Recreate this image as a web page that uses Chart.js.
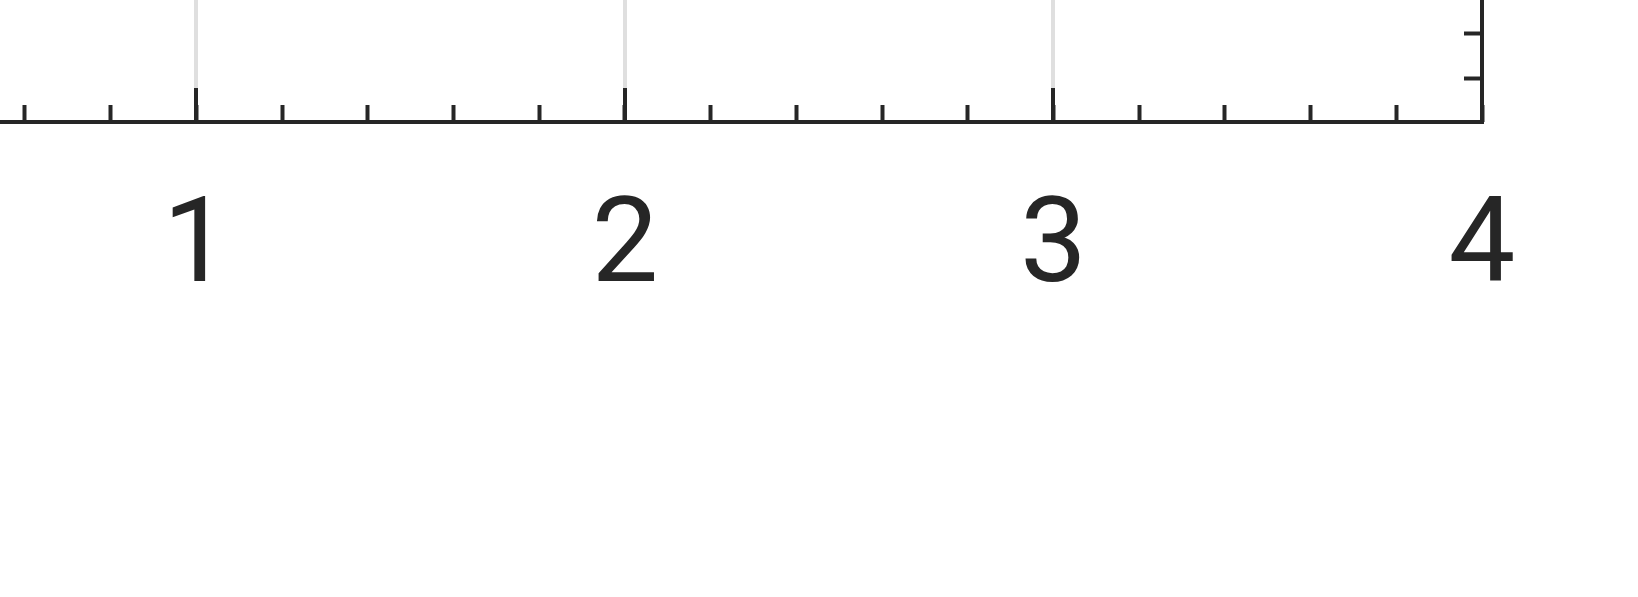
<!DOCTYPE html>
<html>
<head>
<meta charset="utf-8">
<script src="https://cdn.jsdelivr.net/npm/chart.js@4/dist/chart.umd.min.js"></script>
<style>
  html, body { margin: 0; padding: 0; background: #ffffff; }
  #frame { position: relative; width: 1638px; height: 597px; overflow: hidden; background: #ffffff; }
  #holder { position: absolute; left: -100px; top: -300px; width: 1738px; height: 897px; }
</style>
</head>
<body>
<div id="frame"><div id="holder"><canvas id="graf" width="1738" height="897"></canvas></div></div>
<script>
// visible part of the axes (the rest of the figure lies outside the frame)
const xRange = [0.5, 4];
const xMajorTicks = [1, 2, 3, 4];
const xTickLabels = ["1", "2", "3", "4"];
const xMinorStep = 0.2;
const yRange = [0.046, 9.34];
const yMinorTicks = [1, 2, 3, 4, 5, 6, 7, 8, 9];

const barva = "#262626";
const mrizka = "#dfdfdf";

window.addEventListener("DOMContentLoaded", function() {
    const ctx = document.getElementById("graf").getContext("2d");
    new Chart(ctx, {
        type: "line",
        data: { datasets: [] },
        options: {
            responsive: false,
            animation: false,
            layout: { padding: { left: 82, top: 0, right: 0, bottom: 0 } },
            plugins: { legend: { display: false }, tooltip: { enabled: false } },
            scales: {
                xMinor: {
                    axis: "x", type: "linear", position: "bottom", weight: 0,
                    min: xRange[0], max: xRange[1],
                    ticks: { display: false, stepSize: xMinorStep },
                    grid: { drawOnChartArea: false, tickLength: -17, tickColor: barva, tickWidth: 4 },
                    border: { display: false },
                    afterFit: function(s) { s.height = 0; }
                },
                x: {
                    type: "linear", position: "bottom", weight: 1,
                    min: xRange[0], max: xRange[1],
                    afterBuildTicks: function(s) { s.ticks = xMajorTicks.map(function(v) { return { value: v }; }); },
                    ticks: {
                        color: barva, padding: 92, maxRotation: 0, autoSkip: false,
                        font: { family: "Roboto, Arial, sans-serif", size: 119 },
                        callback: function(v) { const i = xMajorTicks.indexOf(v); return i >= 0 ? xTickLabels[i] : ""; }
                    },
                    grid: {
                        color: function(c) { return c.tick && c.tick.value === xRange[1] ? "rgba(0,0,0,0)" : mrizka; },
                        lineWidth: 4, tickLength: -34, tickColor: barva, tickWidth: 4
                    },
                    border: { display: true, color: barva, width: 4 },
                    afterFit: function(s) { s.height = 475; }
                },
                y: {
                    type: "linear", position: "right",
                    min: yRange[0], max: yRange[1],
                    afterBuildTicks: function(s) { s.ticks = yMinorTicks.map(function(v) { return { value: v }; }); },
                    ticks: { display: false },
                    grid: { drawOnChartArea: false, tickLength: -18, tickColor: barva, tickWidth: 4 },
                    border: { display: true, color: barva, width: 4 },
                    afterFit: function(s) { s.width = 156; }
                }
            }
        }
    });
});
</script>
</body>
</html>
